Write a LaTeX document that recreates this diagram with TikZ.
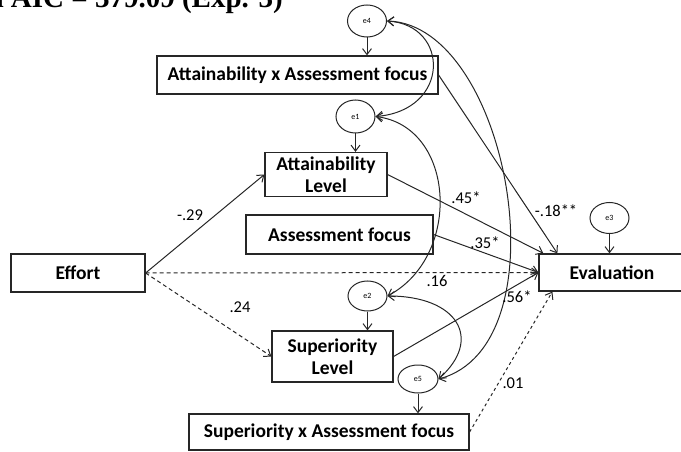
\documentclass[tikz,border=0pt]{standalone}
\usepackage{fontspec}
\setmainfont{Carlito}
\newfontfamily\titlefont{Liberation Serif}
\usetikzlibrary{arrows.meta,calc,shapes.geometric}
\begin{document}
\begin{tikzpicture}[x=1pt,y=-1pt,
  box/.style={draw=black!85,line width=1.2pt,inner sep=0pt,align=center,
    font=\fontsize{19.5}{22}\selectfont\bfseries},
  err/.style={draw=black!85,line width=1pt,ellipse,inner sep=0pt,
    font=\fontsize{8}{9}\selectfont},
  tip/.style={-{Straight Barb[length=6pt,width=9pt]}},
  link/.style={line width=1pt,draw=black!85,tip},
  cov/.style={line width=1pt,draw=black!85,
    {Straight Barb[length=6pt,width=9pt]}-{Straight Barb[length=6pt,width=9pt]}},
  dashline/.style={dash pattern=on 4pt off 3pt},
  dotline/.style={dash pattern=on 3pt off 3pt},
  coef/.style={inner sep=0pt,font=\fontsize{16.5}{18}\selectfont}
]
\useasboundingbox (0,0) rectangle (681,452);

% heading, cut by the top edge
\node[anchor=base east,inner sep=0pt,
  font=\titlefont\fontsize{29}{30}\selectfont\bfseries] (title) at (283,7.5)
  {and AIC = 379.09 (Exp. 3)};

% observed variables
\node[box,minimum width=281,minimum height=38] (attx) at (297.5,75) {Attainability x Assessment focus};
\node[box,minimum width=122,minimum height=44] (attl) at (326,174.5) {Attainability\\Level};
\node[box,minimum width=187,minimum height=39] (asf) at (339.5,234.5) {Assessment focus};
\node[box,minimum width=134,minimum height=38] (eff) at (78,273) {Effort};
\node[box,minimum width=146,minimum height=37] (eva) at (612,272.5) {Evaluation};
\node[box,minimum width=121,minimum height=51] (supl) at (332.5,356.5) {Superiority\\Level};
\node[box,minimum width=280,minimum height=36] (supx) at (329,432) {Superiority x Assessment focus};

% error terms
\node[err,minimum width=39,minimum height=32] (e4) at (367,21) {e4};
\node[err,minimum width=39,minimum height=33] (e1) at (355.5,116.5) {e1};
\node[err,minimum width=39,minimum height=31] (e3) at (609.5,218) {e3};
\node[err,minimum width=39,minimum height=30] (e2) at (367.5,296) {e2};
\node[err,minimum width=40,minimum height=28] (e5) at (418,379) {e5};

\draw[link] (e4.south) -- (e4.south |- attx.north);
\draw[link] (e1.south) -- (e1.south |- attl.north);
\draw[link] (e3.south) -- (e3.south |- eva.north);
\draw[link] (e2.south) -- (e2.south |- supl.north);
\draw[link] (e5.south) -- (e5.south |- supx.north);

% structural paths
\draw[link] (eff.east) -- (attl.west);
\draw[link,dashline] (eff.east) -- (supl.west);
\draw[link,dashline] (eff.east) -- (eva.west);
\draw[link] (attl.east) -- ($(eva.north west)+(5,0)$);
\draw[link] (attx.east) -- ($(eva.north west)+(19,0)$);
\draw[link] (asf.east) -- (eva.west);
\draw[link] (supl.east) -- (eva.west);
\draw[link,dotline] (supx.east) -- ($(eva.south west)+(14,0)$);

% error covariances
\draw[cov] (e4.east) .. controls +(63,4) and +(75,-6) .. (e1.east);
\draw[cov] (e1.east) .. controls +(80,10) and +(75,-40) .. (e2.east);
\draw[cov] (e4.east) .. controls +(122,4) and +(127,-34) .. (e5.east);
\draw[cov] (e2.east) .. controls +(70,0) and +(45,-40) .. (e5.east);

% coefficients
\node[coef] (c29) at (190,215) {-.29};
\node[coef] (c24) at (240,307) {.24};
\node[coef] (c45) at (466,198) {.45*};
\node[coef] (c18) at (556,211) {-.18**};
\node[coef] (c35) at (485,243) {.35*};
\node[coef] (c16) at (437,281) {.16};
\node[coef] (c56) at (517,297) {.56*};
\node[coef] (c01) at (513,383) {.01};
\end{tikzpicture}
\end{document}
